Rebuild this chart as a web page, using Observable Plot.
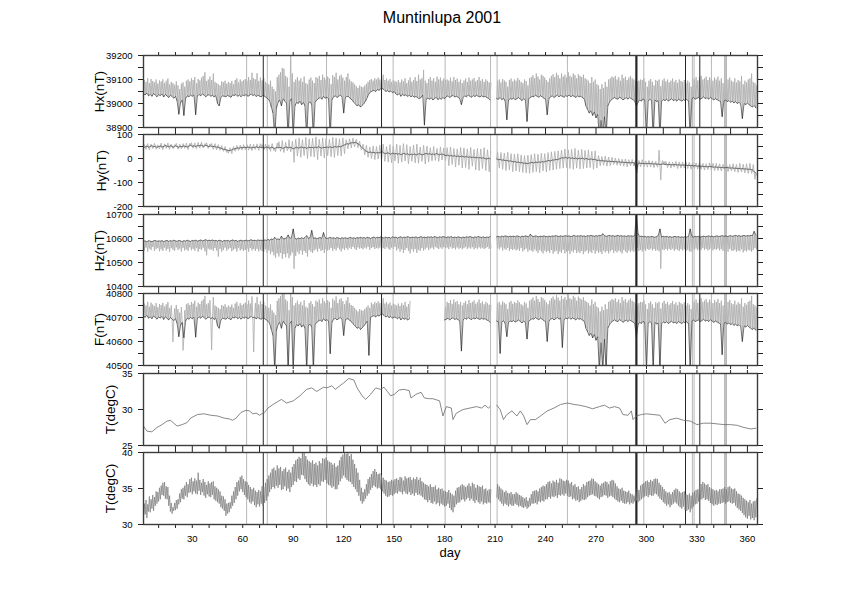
<!DOCTYPE html>
<html><head><meta charset="utf-8">
<script src="https://cdn.jsdelivr.net/npm/d3@7"></script>
<script src="https://cdn.jsdelivr.net/npm/@observablehq/plot@0.6"></script>
<style>
body{margin:0;background:#fff;font-family:"Liberation Sans",Arial,Helvetica,sans-serif}
#wrap{position:relative;width:842px;height:595px;overflow:hidden;background:#fff}
.panel{position:absolute;left:0}
#title{position:absolute;top:9px;left:292px;width:300px;text-align:center;font-size:16px;line-height:18px;color:#000}
#day{position:absolute;top:545px;left:400px;width:100px;text-align:center;font-size:13px;line-height:15px;color:#000}
</style></head><body>
<div id="wrap"><div id="title">Muntinlupa 2001</div><div id="day">day</div></div>
<script>
// ---- tick values ----
const xMinorTicks = [10,20,30,40,50,60,70,80,90,100,110,120,130,140,150,160,170,180,190,200,210,220,230,240,250,260,270,280,290,300,310,320,330,340,350,360];
const xLabelTicks = [30,60,90,120,150,180,210,240,270,300,330,360];
const hxTicks = [38900,39000,39100,39200], hxMinor = [38950,39050,39150];
const hyTicks = [-200,-100,0,100], hyMinor = [-150,-50,50];
const hzTicks = [10400,10500,10600,10700], hzMinor = [10450,10550,10650];
const fTicks = [40500,40600,40700,40800], fMinor = [40550,40650,40750];
const tTicks = [25,30,35];
const t2Ticks = [30,35,40];

// ---- spike days (values beyond range) ----
const glitchGray = [62.3,74.6,109.8,149.4,180.3,207.3,211.2,253,298.4,327.3,328.3,338.6,346.6,347.4];
const glitchDark = [72.2,142.5,294,323.2,331.7];

// ---- Hx (nT): daily night level and daily peak, days 1..365 ----
const hxBase = [
39040,39036,39044,39032,39038,39030,39042,39035,39028,39037,
39033,39040,39027,39038,39031,39025,39035,39029,39022,39030,
39010,38955,39002,39015,38950,39020,39032,39028,39035,39030,
39036,38953,39030,39038,39032,39040,39035,39028,39034,39037,
39030,39035,39027,39033,39000,38990,39025,39032,39030,39028,
39034,39030,39026,39036,39033,39038,39030,39035,39028,39036,
39032,39038,39030,39034,39040,39033,39037,39029,39035,39030,
39028,39034,39030,39025,39020,39010,38985,38960,38860,38980,
39005,39015,38990,39020,39010,39000,38860,39010,39020,38860,
38990,39005,39000,39010,38995,39005,38990,38860,39000,39008,
38995,38860,39005,39015,39020,39025,39018,39030,39022,39026,
39020,38860,39015,39028,39032,39025,39030,39035,39028,38960,
39025,39030,39028,39020,39015,39005,38998,38990,38995,38985,
38992,39000,39010,39025,39040,39048,39052,39055,39050,39058,
39055,39060,39062,39058,39050,39054,39048,39052,39045,39050,
39040,39035,39042,39030,39038,39033,39036,39030,39034,39028,
39032,39026,39030,39024,39020,39025,39035,38910,39018,39022,
39018,39024,39015,39020,39026,39016,39022,39018,39025,39020,
39028,39032,39025,39030,39034,39027,39030,39026,39020,38995,
39025,39032,39028,39035,39030,39026,39033,39029,39034,39030,
39027,39032,39028,39030,39025,39022,39015,null,null,null,
39020,39018,39025,39016,39022,39010,38932,39015,39020,39018,
39022,39016,39020,39025,39018,39012,39020,39015,38925,39020,
39025,39030,39028,39035,39030,39026,39032,39028,39022,39018,
38953,39020,39028,39032,39025,39030,39035,39028,39033,39030,
39026,39032,39030,39035,39028,39033,39030,39025,39032,39028,
39030,39024,39020,38990,38975,38960,38970,38950,38965,38940,
38955,38860,38930,38860,38945,38860,38990,39005,39015,39020,
39025,39020,39018,39026,39022,39015,39020,39024,39018,39025,
39020,39016,39010,38990,39005,39015,39010,39020,39012,38860,
39010,39018,39012,38860,39015,39008,39012,38860,39010,39016,
39012,39018,39010,39015,39020,39012,39016,39010,39018,39014,
39010,39016,39012,39018,39008,38860,39020,39025,39018,39022,
39025,39018,39022,39028,39020,39024,39018,39026,39020,39015,
39020,39016,39012,39008,38945,39010,39015,39008,39012,39005,
39010,39002,39008,39000,39005,38998,38937,39000,38995,39002,
38995,38990,38985,38992,38982];
const hxPeak = [
39098,39090,39105,39085,39102,39094,39088,39100,39083,39096,
39092,39101,39086,39095,39104,39080,39090,39085,39078,39092,
39075,39060,39083,39088,39070,39095,39100,39092,39105,39098,
39110,39085,39102,39096,39108,39115,39130,39094,39100,39112,
39098,39125,39090,39085,39080,39075,39092,39088,39095,39083,
39090,39085,39094,39080,39098,39105,39088,39100,39092,39097,
39102,39095,39110,39098,39128,39105,39100,39126,39094,39108,
39096,39105,39090,39085,39080,39095,39070,39060,39050,39110,
39120,39130,39148,39145,39115,39108,39070,39200,39125,39090,
39100,39110,39095,39105,39090,39112,39085,39080,39100,39108,
39095,39085,39110,39105,39115,39098,39120,39108,39100,39112,
39105,39080,39118,39110,39128,39100,39115,39120,39108,39095,
39110,39125,39100,39092,39088,39080,39072,39065,39075,39070,
39068,39075,39082,39090,39098,39102,39095,39105,39100,39108,
39100,39110,39120,39098,39104,39095,39102,39090,39098,39094,
39090,39098,39088,39100,39092,39105,39085,39096,39108,39090,
39098,39110,39094,39120,39100,39105,39140,39095,39085,39102,
39110,39095,39105,39090,39112,39100,39108,39095,39104,39098,
39100,39095,39108,39092,39110,39098,39104,39090,39100,39085,
39096,39104,39090,39108,39095,39100,39106,39092,39098,39110,
39095,39102,39090,39100,39094,39088,39085,null,null,null,
39095,39100,39088,39102,39096,39090,39070,39098,39104,39092,
39100,39095,39106,39098,39090,39085,39100,39094,39075,39105,
39110,39118,39105,39125,39112,39100,39120,39115,39108,39098,
39090,39105,39115,39122,39110,39128,39118,39105,39125,39112,
39120,39108,39130,39115,39110,39125,39118,39105,39122,39115,
39110,39120,39105,39100,39095,39085,39110,39090,39100,39080,
39075,39060,39080,39065,39090,39070,39100,39105,39112,39108,
39115,39100,39110,39095,39120,39105,39112,39098,39108,39115,
39105,39100,39092,39090,39095,39100,39098,39105,39090,39070,
39095,39102,39090,39075,39098,39094,39100,39072,39096,39104,
39092,39100,39088,39095,39104,39090,39098,39086,39100,39094,
39090,39098,39085,39095,39088,39070,39105,39100,39110,39096,
39108,39115,39100,39105,39112,39098,39110,39104,39095,39108,
39100,39112,39095,39105,39085,39098,39092,39100,39108,39095,
39090,39105,39088,39098,39092,39115,39080,39095,39088,39100,
39105,39125,39090,39085,39075];

// ---- Hy (nT) ----
const hyBase = [
45,48,52,47,50,53,49,51,46,50,
52,48,50,54,51,49,53,50,47,52,
50,47,51,49,53,50,48,52,55,51,
53,50,54,52,56,53,51,55,52,50,
52,49,51,47,48,45,43,40,38,36,
35,33,34,38,40,42,44,43,46,45,
47,45,48,46,44,47,45,49,46,48,
45,47,44,48,46,43,47,45,42,46,
44,47,45,42,46,48,44,47,45,40,
44,47,43,46,48,44,46,42,47,45,
47,44,48,45,49,46,43,47,45,48,
46,49,45,48,50,47,51,48,52,55,
58,62,60,64,66,65,68,63,60,52,
45,38,32,28,25,27,24,26,22,25,
23,26,28,22,20,24,21,18,22,19,
21,18,20,16,19,22,17,20,15,18,
16,19,14,18,20,17,15,19,21,18,
20,17,19,16,21,18,15,19,17,14,
12,15,10,13,9,12,8,11,7,10,
8,6,9,5,7,4,6,3,5,2,
4,1,3,0,-2,1,-1,null,null,null,
-2,-5,-3,-7,-6,-9,-8,-11,-10,-12,
-14,-13,-16,-15,-18,-17,-20,-19,-22,-20,
-18,-16,-19,-15,-17,-14,-16,-13,-15,-12,
-10,-8,-11,-6,-7,-4,-5,-2,1,3,
2,5,1,4,0,3,-1,2,-2,1,
-1,2,-3,0,-2,-4,-1,-5,-3,-6,
-8,-7,-10,-9,-11,-10,-12,-11,-13,-12,
-14,-13,-15,-14,-16,-15,-17,-16,-18,-17,
-18,-17,-19,-51,-20,-19,-21,-20,-22,-21,
-20,-22,-21,-23,-22,-24,-23,-25,-24,-23,
-25,-24,-26,-25,-27,-26,-25,-27,-26,-28,
-27,-28,-26,-29,-28,-30,-29,-31,-30,-32,
-31,-33,-32,-34,-33,-35,-34,-33,-35,-36,
-35,-37,-36,-38,-37,-39,-38,-37,-39,-40,
-39,-41,-40,-42,-41,-43,-42,-44,-43,-45,
-44,-46,-48,-55,-60];
const hyPeak = [
58,38,62,36,60,41,63,39,57,40,
64,37,61,42,65,38,60,41,58,63,
39,60,40,62,42,64,37,63,66,43,
65,41,67,43,68,44,62,66,42,61,
63,38,62,36,58,34,54,30,50,25,
22,45,20,50,30,55,33,56,35,58,
36,58,35,60,33,59,38,61,34,62,
58,36,60,34,57,30,62,33,28,64,
70,30,75,25,68,32,78,28,72,-16,
80,10,85,5,78,12,88,0,82,8,
84,6,90,-5,80,10,86,2,83,12,
80,8,88,4,85,12,82,10,86,20,
78,40,82,44,85,48,80,45,72,35,
60,15,55,5,48,0,52,-5,50,-2,
55,-8,60,-12,50,-15,58,-18,52,-10,
60,-20,55,-15,62,-10,58,-22,50,-12,
56,-18,60,-20,48,-12,55,-23,52,-15,
45,-10,50,-8,42,-12,48,-6,44,-10,
45,-30,48,-25,42,-35,40,-28,46,-40,
44,-38,40,-45,46,-32,38,-48,42,-50,
40,-42,45,-50,36,-55,30,null,null,null,
28,-40,25,-45,22,-50,26,-48,20,-55,
18,-52,20,-55,15,-58,12,-60,14,-62,
16,-58,20,-55,18,-60,22,-52,20,-56,
25,-50,28,-48,30,-45,32,-42,35,-40,
40,-38,36,-42,38,-45,42,-40,35,-44,
38,-42,34,-40,36,-38,30,-45,32,-40,
12,-30,8,-28,10,-32,6,-30,5,-25,
2,-28,0,-30,-3,-32,-2,-35,-5,-30,
-4,-32,-6,-60,-8,-35,-5,-34,-10,-36,
-8,-35,-10,-38,-12,-36,35,-90,-9,-12,
-12,-38,-14,-40,-15,-36,-12,-42,-14,-40,
-15,-40,-14,-42,-16,-45,-15,-43,-18,-44,
-18,-45,-20,-48,-22,-46,-18,-47,-20,-50,
-20,-50,-22,-52,-24,-48,-20,-55,-25,-52,
-22,-55,-25,-58,-20,-56,-24,-60,-22,-62,
-20,-62,-25,-87,-70];

// ---- Hz (nT) ----
const hzBase = [
10588,10590,10586,10591,10589,10587,10590,10592,10588,10590,
10589,10591,10587,10590,10592,10588,10591,10589,10593,10590,
10588,10592,10590,10587,10591,10589,10593,10590,10588,10592,
10590,10593,10589,10591,10594,10590,10592,10595,10591,10593,
10591,10594,10590,10592,10589,10593,10591,10588,10592,10590,
10592,10589,10591,10594,10590,10592,10588,10591,10593,10590,
10591,10593,10590,10592,10595,10591,10593,10590,10594,10592,
10593,10591,10594,10592,10596,10593,10598,10595,10605,10597,
10598,10596,10610,10598,10600,10602,10615,10600,10605,10640,
10600,10598,10602,10599,10603,10600,10604,10612,10601,10603,
10634,10600,10603,10599,10602,10604,10600,10625,10603,10600,
10602,10605,10601,10603,10600,10604,10602,10599,10603,10601,
10603,10600,10602,10605,10601,10603,10600,10604,10602,10605,
10602,10604,10601,10605,10603,10600,10604,10606,10602,10605,
10603,10607,10604,10602,10606,10603,10605,10601,10607,10604,
10606,10602,10605,10607,10603,10606,10604,10608,10605,10603,
10606,10604,10607,10603,10605,10608,10604,10606,10603,10607,
10605,10607,10604,10608,10606,10603,10607,10605,10608,10606,
10604,10607,10605,10608,10603,10606,10604,10607,10605,10603,
10606,10604,10607,10605,10608,10606,10603,10607,10605,10608,
10606,10604,10607,10603,10606,10605,10608,null,null,null,
10607,10609,10606,10610,10608,10611,10609,10607,10610,10608,
10610,10607,10611,10609,10606,10610,10608,10611,10609,10607,
10618,10610,10608,10611,10609,10607,10610,10608,10611,10609,
10607,10610,10608,10611,10609,10612,10610,10608,10611,10609,
10610,10612,10609,10611,10608,10610,10613,10609,10611,10610,
10612,10609,10611,10608,10612,10610,10613,10611,10609,10612,
10610,10613,10611,10620,10612,10609,10611,10613,10610,10612,
10609,10611,10613,10610,10612,10609,10611,10608,10612,10610,
10611,10609,10612,10700,10620,10608,10610,10607,10609,10606,
10608,10606,10609,10607,10605,10608,10612,10640,10606,10609,
10607,10609,10606,10608,10605,10607,10609,10606,10608,10605,
10607,10605,10608,10606,10609,10640,10608,10606,10609,10607,
10609,10606,10608,10610,10607,10609,10611,10608,10610,10607,
10609,10611,10608,10610,10612,10609,10611,10608,10610,10612,
10609,10611,10613,10610,10612,10609,10611,10613,10610,10612,
10611,10613,10612,10630,10615];
const hzDip = [
10550,10562,10545,10558,10552,10565,10548,10556,10560,10547,
10555,10548,10562,10550,10557,10545,10560,10553,10549,10563,
10552,10558,10546,10561,10550,10555,10548,10563,10551,10557,
10549,10560,10545,10556,10552,10562,10547,10530,10558,10553,
10555,10548,10560,10550,10525,10557,10545,10552,10562,10549,
10556,10560,10547,10553,10558,10546,10561,10550,10555,10548,
10552,10558,10545,10560,10550,10556,10548,10557,10546,10553,
10548,10545,10555,10540,10550,10535,10545,10530,10520,10538,
10525,10540,10516,10535,10522,10538,10518,10530,10542,10474,
10528,10545,10535,10550,10532,10548,10540,10525,10552,10545,
10540,10550,10555,10545,10558,10548,10552,10540,10556,10550,
10553,10560,10548,10557,10550,10562,10555,10546,10558,10552,
10560,10553,10562,10556,10565,10558,10552,10563,10557,10560,
10555,10562,10558,10565,10553,10560,10564,10556,10561,10558,
10562,10545,10560,10556,10564,10558,10553,10562,10557,10565,
10550,10558,10545,10555,10540,10552,10560,10548,10538,10555,
10545,10556,10540,10553,10548,10560,10550,10555,10562,10552,
10558,10562,10555,10565,10560,10556,10563,10557,10564,10560,
10562,10556,10565,10558,10560,10554,10563,10557,10561,10555,
10560,10565,10556,10562,10558,10564,10555,10561,10557,10563,
10558,10562,10556,10560,10565,10557,10562,null,null,null,
10560,10555,10563,10550,10558,10553,10561,10548,10556,10552,
10557,10550,10555,10548,10560,10546,10553,10558,10545,10552,
10550,10545,10555,10548,10540,10552,10546,10538,10550,10543,
10548,10540,10552,10537,10545,10550,10535,10546,10540,10553,
10538,10545,10550,10536,10548,10542,10552,10539,10546,10540,
10548,10535,10545,10550,10538,10546,10540,10552,10537,10548,
10540,10545,10536,10550,10542,10548,10538,10546,10552,10540,
10548,10542,10550,10545,10538,10552,10546,10540,10550,10544,
10550,10545,10552,10560,10548,10553,10546,10555,10549,10557,
10552,10558,10550,10556,10548,10553,10547,10474,10555,10551,
10556,10550,10557,10552,10558,10549,10555,10553,10548,10556,
10550,10555,10548,10553,10547,10545,10556,10552,10558,10551,
10556,10553,10560,10552,10557,10550,10555,10558,10551,10556,
10553,10558,10550,10556,10548,10555,10552,10545,10557,10550,
10548,10553,10545,10550,10547,10555,10542,10550,10546,10553,
10550,10545,10552,10560,10555];

// ---- F (nT) ----
const fBase = [
40705,40701,40709,40697,40703,40695,40707,40700,40693,40702,
40698,40705,40692,40703,40696,40690,40700,40694,40687,40695,
40675,40620,40667,40680,40615,40685,40697,40693,40700,40695,
40701,40618,40695,40703,40697,40705,40700,40693,40699,40702,
40695,40700,40692,40698,40665,40655,40690,40697,40695,40693,
40699,40695,40691,40701,40698,40703,40695,40700,40693,40701,
40697,40703,40695,40699,40705,40698,40702,40694,40700,40695,
40693,40699,40695,40690,40685,40675,40650,40625,40480,40645,
40670,40680,40655,40685,40675,40665,40480,40675,40685,40480,
40655,40670,40665,40675,40660,40670,40655,40480,40665,40673,
40660,40480,40670,40680,40685,40690,40683,40695,40687,40691,
40685,40549,40680,40693,40697,40690,40695,40700,40693,40625,
40690,40695,40693,40685,40680,40670,40663,40655,40660,40650,
40657,40665,40675,40685,40542,40700,40705,40708,40702,40710,
40706,40712,40714,40709,40702,40706,40700,40704,40697,40702,
40700,40695,40702,40690,40698,40693,40696,40690,40694,null,
null,null,null,null,null,null,null,null,null,null,
null,null,null,null,null,null,null,null,null,40690,
40693,40697,40690,40695,40699,40692,40695,40691,40685,40560,
40690,40697,40693,40700,40695,40691,40698,40694,40699,40695,
40692,40697,40693,40695,40690,40687,40680,null,null,null,
40685,40683,40550,40681,40687,40675,40620,40680,40685,40683,
40687,40681,40685,40690,40683,40677,40685,40680,40610,40685,
40690,40695,40693,40700,40695,40691,40697,40693,40687,40683,
40600,40685,40693,40697,40690,40695,40700,40693,40698,40575,
40691,40697,40695,40700,40693,40698,40695,40690,40697,40693,
40695,40689,40685,40655,40640,40625,40635,40615,40630,40605,
40620,40480,40595,40480,40610,40480,40655,40670,40680,40685,
40690,40685,40683,40691,40687,40680,40685,40689,40683,40690,
40685,40681,40675,40620,40670,40680,40675,40685,40677,40480,
40675,40683,40677,40480,40680,40673,40677,40480,40675,40681,
40677,40683,40675,40680,40685,40677,40681,40675,40683,40679,
40675,40681,40677,40683,40673,40480,40685,40690,40683,40687,
40690,40683,40687,40693,40685,40689,40683,40691,40685,40680,
40685,40681,40677,40673,40545,40675,40680,40673,40677,40670,
40675,40667,40673,40665,40670,40663,40600,40665,40660,40667,
40660,40655,40650,40657,40647];
const fPeak = [
40758,40750,40765,40745,40762,40754,40748,40760,40743,40756,
40752,40761,40746,40755,40764,40740,40750,40598,40738,40752,
40735,40720,40743,40563,40730,40755,40760,40752,40765,40758,
40770,40745,40762,40756,40768,40775,40790,40754,40760,40772,
40565,40785,40750,40745,40740,40735,40752,40748,40755,40743,
40750,40745,40754,40740,40758,40765,40748,40760,40752,40757,
40762,40755,40770,40758,40788,40556,40760,40786,40754,40768,
40756,40765,40750,40745,40740,40755,40730,40720,40710,40770,
40780,40790,40808,40805,40775,40768,40730,40800,40785,40750,
40760,40770,40755,40765,40750,40772,40745,40740,40760,40768,
40755,40745,40770,40765,40775,40758,40780,40768,40760,40772,
40765,40740,40778,40770,40788,40760,40775,40780,40768,40755,
40770,40785,40760,40752,40748,40740,40732,40725,40735,40730,
40728,40735,40742,40750,40740,40762,40755,40765,40760,40768,
40760,40770,40780,40758,40764,40755,40762,40750,40758,40754,
40750,40758,40748,40760,40752,40765,40745,40756,40768,null,
null,null,null,null,null,null,null,null,null,null,
null,null,null,null,null,null,null,null,null,40745,
40765,40760,40773,40757,40775,40763,40769,40755,40765,40750,
40761,40769,40755,40773,40760,40765,40771,40757,40763,40775,
40760,40767,40755,40765,40759,40753,40750,null,null,null,
40760,40765,40753,40767,40761,40755,40735,40763,40769,40757,
40765,40760,40771,40763,40755,40750,40765,40759,40740,40770,
40775,40783,40770,40790,40777,40765,40785,40780,40773,40763,
40755,40770,40780,40787,40775,40793,40783,40770,40790,40777,
40785,40773,40795,40780,40775,40790,40783,40770,40787,40780,
40775,40785,40770,40765,40760,40750,40775,40755,40765,40745,
40740,40725,40745,40730,40755,40735,40765,40770,40777,40773,
40780,40765,40775,40760,40785,40770,40777,40763,40773,40780,
40770,40765,40757,40750,40760,40765,40763,40770,40755,40735,
40760,40767,40755,40740,40763,40759,40765,40737,40761,40769,
40757,40765,40753,40760,40769,40755,40763,40751,40765,40759,
40755,40763,40750,40760,40753,40735,40770,40765,40775,40761,
40773,40780,40765,40770,40777,40763,40775,40769,40760,40773,
40765,40777,40760,40770,40750,40763,40757,40765,40773,40760,
40755,40770,40753,40763,40757,40780,40745,40760,40753,40765,
40770,40790,40755,40750,40740];

// ---- T (degC), sensor temperature: day / value ----
const tDays = [1,3,6,9,12,15,17,19,21,24,27,29,33,37,41,45,49,52,54,56,59,62,64,66,68,70,72,73,75,78,83,86,90,94,98,101,104,108,110,113,115,120,123,126,128,131,133,136,139,142,144,146,148,150,153,156,159,160,163,166,168,171,173,177,179,181,184,185,187,191,195,199,202,204,206,207,209,211,213,215,217,220,223,225,227,229,231,234,237,241,245,249,253,257,260,264,268,272,275,278,281,284,286,289,291,292,294,297,300,304,308,311,314,318,322,326,330,334,338,342,346,350,354,358,362,365];
const tVals = [27.7,27.0,26.9,27.5,27.9,28.4,28.5,28.1,27.7,27.9,28.2,28.8,29.3,29.4,29.2,29.1,28.8,28.7,28.5,28.8,29.6,29.9,29.8,29.4,29.5,29.2,29.5,29.6,30.2,30.7,31.4,30.9,31.2,31.9,32.8,33.0,32.5,33.1,33.0,33.3,32.8,33.7,34.3,34.1,33.0,31.9,31.4,32.1,33.0,32.8,33.1,32.5,31.9,32.1,32.7,32.8,32.6,31.6,32.1,32.4,31.6,31.5,31.5,31.2,29.1,30.4,30.2,28.6,29.5,30.0,30.2,30.4,30.2,30.6,30.2,30.4,null,30.6,30.0,28.6,29.3,29.8,29.1,29.8,29.1,27.9,28.6,28.6,29.1,29.8,30.2,30.7,30.9,30.7,30.6,30.4,30.1,30.4,30.6,30.2,30.4,30.2,29.3,29.2,29.8,28.6,29.1,29.3,29.4,29.3,29.2,28.1,28.6,28.8,28.5,28.4,27.9,28.1,28.1,28.0,27.9,27.9,27.8,27.5,27.3,27.4];

// ---- T (degC), outside temperature: daily min / max ----
const t2Lo = [
31.0,31.4,30.9,31.8,31.7,32.2,31.9,32.6,32.9,33.2,
33.5,34.1,34.0,33.6,33.5,32.6,31.8,31.5,31.9,32.0,
32.2,32.8,33.1,33.6,33.5,34.0,33.8,34.4,34.5,34.2,
34.6,34.3,34.2,34.7,34.1,34.5,34.0,33.7,34.2,33.9,
33.8,34.1,33.5,33.3,33.1,32.9,32.4,32.2,31.9,31.2,
31.5,31.7,32.2,32.6,33.0,33.5,34.0,34.6,34.9,34.5,
34.1,33.8,33.5,33.1,32.9,33.2,32.7,32.4,32.8,32.5,
32.9,32.6,33.0,33.3,33.9,34.5,34.9,35.2,35.0,35.4,
35.1,35.5,34.8,34.9,35.3,34.7,35.0,34.5,35.2,35.5,
36.0,35.9,36.4,36.2,36.9,36.8,36.3,35.9,35.6,35.4,
35.7,35.3,35.5,35.2,35.6,35.4,36.0,35.9,36.2,35.7,
35.5,35.4,35.1,35.3,34.9,34.9,35.5,36.0,36.4,36.8,
36.5,36.2,36.0,35.9,35.6,35.2,34.9,34.5,34.0,33.3,
32.9,33.2,33.6,34.0,34.3,34.8,35.1,35.4,35.2,35.0,
35.1,34.9,34.6,34.3,34.0,33.8,33.9,34.1,34.0,34.2,
34.4,34.3,34.6,34.5,34.2,34.6,34.3,34.2,34.5,34.1,
34.3,34.0,34.4,34.1,34.2,34.0,33.8,33.5,33.4,33.1,
33.4,33.0,32.9,33.2,32.8,33.0,32.6,32.9,32.7,32.5,
32.6,32.9,32.3,32.0,31.7,32.4,32.8,33.0,33.1,33.4,
33.5,33.2,33.5,33.7,33.3,33.6,33.3,33.0,33.4,33.1,
32.9,33.2,32.8,33.0,32.9,33.1,33.0,null,null,null,
33.8,33.5,33.2,32.9,32.6,32.9,32.7,32.5,32.8,32.6,
32.6,32.9,32.7,32.5,32.6,32.4,32.3,32.5,32.2,32.4,
32.6,32.9,32.9,33.0,32.8,33.2,33.1,33.3,33.2,33.5,
33.5,33.8,33.6,33.9,33.8,34.0,33.7,34.1,34.0,34.2,
34.0,34.3,34.0,33.8,33.9,33.5,33.6,33.3,33.4,33.1,
33.3,33.5,33.4,33.5,33.8,34.0,34.1,34.2,34.0,33.9,
33.7,33.5,33.8,33.9,34.1,34.0,33.7,33.9,34.0,33.8,
33.6,33.4,33.2,33.1,33.3,33.0,32.9,32.9,33.1,32.8,
33.0,32.9,33.2,33.3,33.1,33.3,33.5,33.7,33.9,34.0,
33.8,34.1,34.0,34.0,34.3,34.2,33.9,33.6,33.4,33.1,
32.9,32.6,32.8,32.4,32.7,32.9,33.1,32.9,32.6,32.4,
32.2,32.5,32.0,31.9,32.1,31.7,32.2,32.5,32.8,32.9,
33.2,33.5,33.5,33.7,33.4,33.5,33.3,33.0,32.8,32.6,
32.8,32.7,32.9,32.9,33.0,33.1,32.9,33.1,33.2,33.0,
32.9,33.0,32.6,32.3,32.1,31.9,31.6,31.3,31.0,30.8,
31.2,30.7,30.9,30.6,31.0];
const t2Hi = [
32.9,33.4,32.8,33.9,33.5,34.1,33.8,34.6,34.5,35.1,
35.4,35.8,35.9,35.3,35.2,34.0,33.0,32.4,33.0,33.4,
33.5,34.3,34.9,35.1,35.4,35.9,35.6,36.3,36.5,36.0,
36.4,36.1,37.2,36.2,35.8,36.3,35.9,35.5,36.0,35.7,
35.9,36.0,35.3,35.1,34.9,34.6,34.0,33.9,33.5,32.9,
33.0,33.1,34.0,34.6,35.2,35.9,36.1,36.6,36.8,36.3,
36.0,35.9,35.5,35.2,34.9,35.1,34.7,34.5,34.8,34.6,
35.3,35.2,35.8,36.3,36.8,37.2,37.7,37.9,37.5,38.2,
37.8,38.0,37.4,37.7,37.9,37.3,37.6,37.2,38.0,38.4,
38.9,39.1,39.4,39.2,40.0,40.0,39.5,39.0,38.8,38.6,
38.9,38.4,38.6,38.2,38.8,38.5,39.2,39.1,39.3,38.9,
38.7,38.6,38.3,38.5,38.0,38.2,38.9,39.4,39.7,40.0,
39.8,39.9,39.5,39.8,39.0,38.4,37.8,37.2,36.2,35.1,
34.5,34.9,35.6,36.3,36.6,37.0,37.4,37.7,37.3,37.0,
37.1,36.8,36.5,36.2,36.1,35.9,36.0,36.2,36.1,36.3,
36.4,36.2,36.6,36.5,36.1,36.7,36.4,36.5,36.6,36.2,
36.5,36.3,36.6,36.2,36.5,36.0,35.8,35.6,35.5,35.3,
35.6,35.2,35.2,35.4,34.9,35.1,34.9,35.0,34.7,34.6,
34.5,34.8,34.4,34.2,34.0,34.7,35.1,35.2,35.4,35.6,
35.4,35.2,35.4,35.7,35.3,35.8,35.6,35.1,35.5,35.3,
35.2,35.4,34.9,35.0,34.7,34.9,34.8,null,null,null,
35.6,35.3,35.0,34.8,34.5,34.7,34.4,34.3,34.5,34.2,
34.2,34.5,34.3,34.1,34.0,33.8,33.6,33.8,33.3,33.7,
34.2,34.6,34.7,34.8,34.6,35.0,35.2,35.4,35.3,35.6,
35.9,36.0,35.7,36.1,35.9,36.2,35.8,36.4,36.3,36.1,
36.0,36.2,36.1,35.7,35.9,35.4,35.6,35.2,35.3,34.9,
35.2,35.6,35.4,35.9,36.0,36.1,36.4,36.3,36.0,35.8,
35.6,35.4,35.7,35.8,36.0,35.9,35.6,36.0,36.2,36.1,
35.7,35.3,35.0,34.9,35.1,34.7,34.6,34.5,34.7,34.3,
34.2,34.0,34.6,35.0,34.8,35.4,35.6,35.8,36.0,36.1,
35.9,36.2,36.0,36.3,36.4,36.3,35.8,35.5,35.2,34.9,
34.6,34.4,34.5,34.2,34.5,34.8,35.0,34.9,34.6,34.4,
34.5,34.6,34.2,34.1,34.3,34.0,34.4,34.6,34.8,34.9,
35.3,35.6,35.9,35.7,35.5,35.6,35.2,35.0,34.9,34.7,
34.8,34.6,34.9,34.9,35.0,35.2,34.9,35.2,35.3,35.0,
34.9,35.0,34.6,34.3,34.2,34.0,33.7,33.5,33.3,33.1,
33.4,32.9,33.2,33.3,33.6];

// ---- build tables ----
function zigRows(lo, hi) {
  const rows = [];
  lo.forEach((v, i) => {
    const d = i + 1;
    if (v == null || hi[i] == null) { rows.push({x: d, y: NaN}); return; }
    rows.push({x: d, y: v});
    rows.push({x: d + 0.5, y: hi[i]});
  });
  return rows;
}
function baseRows(arr) { return arr.map((v, i) => ({x: i + 1, y: v == null ? NaN : v})); }
const tRows = tDays.map((d, i) => ({x: d, y: tVals[i] == null ? NaN : tVals[i]}));

const panels = [
  {label: "Hx(nT)", domain: [38900, 39200], major: hxTicks, minor: hxMinor, kind: "zig", a: hxBase, b: hxPeak, dx: -44},
  {label: "Hy(nT)", domain: [-200, 100], major: hyTicks, minor: hyMinor, kind: "zig", a: hyBase, b: hyPeak, dx: -42},
  {label: "Hz(nT)", domain: [10400, 10700], major: hzTicks, minor: hzMinor, kind: "zig", a: hzBase, b: hzDip, dx: -44},
  {label: "F(nT)", domain: [40500, 40800], major: fTicks, minor: fMinor, kind: "zig", a: fBase, b: fPeak, dx: -44},
  {label: "T(degC)", domain: [25, 35], major: tTicks, minor: [], kind: "line", dx: -33},
  {label: "T(degC)", domain: [30, 40], major: t2Ticks, minor: [], kind: "band", a: t2Lo, b: t2Hi, dx: -33}
];
const tops = [55, 134.4, 213.8, 293.2, 372.6, 452];
const wrap = document.getElementById("wrap");

panels.forEach((p, k) => {
  const last = k === panels.length - 1;
  const marks = [];
  if (p.kind === "zig") {
    marks.push(Plot.line(zigRows(p.a, p.b), {x: "x", y: "y", stroke: "#ababab", strokeWidth: 0.8, clip: true}));
  }
  marks.push(Plot.ruleX(glitchGray, {x: d => d, stroke: "#b8b8b8", strokeWidth: d => (d > 346 && d < 348) ? 1.6 : 1}));
  marks.push(Plot.ruleX(glitchDark, {x: d => d, stroke: "#262626", strokeWidth: d => d === 294 ? 2.2 : 1}));
  if (p.kind === "zig") {
    marks.push(Plot.line(baseRows(p.a), {x: "x", y: "y", stroke: "#1c1c1c", strokeWidth: 0.6, clip: true}));
  } else if (p.kind === "line") {
    marks.push(Plot.line(tRows, {x: "x", y: "y", stroke: "#6a6a6a", strokeWidth: 0.8, clip: true}));
  } else {
    marks.push(Plot.line(zigRows(p.a, p.b), {x: "x", y: "y", stroke: "#7a7a7a", strokeWidth: 0.7, clip: true}));
  }
  marks.push(
    Plot.axisY({anchor: "left", ticks: p.major, tickSize: 5, tickPadding: 6, tickFormat: d => String(d), label: null, stroke: "#222"}),
    Plot.axisY({anchor: "right", ticks: p.major.concat(p.minor), tickSize: 5, tickFormat: () => "", label: null, stroke: "#222"}),
    Plot.axisX({anchor: "top", ticks: xMinorTicks, tickSize: 4, tickFormat: () => "", label: null, stroke: "#222"}),
    Plot.axisX({anchor: "bottom", ticks: xMinorTicks, tickSize: 4, tickPadding: 7,
      tickFormat: last ? (d => xLabelTicks.includes(d) ? String(d) : "") : (() => ""), label: null, stroke: "#222"}),
    Plot.frame({stroke: "#3c3c3c", strokeWidth: 1.4}),
    Plot.text([p.label], {frameAnchor: "left", dx: p.dx, rotate: -90, textAnchor: "middle", lineAnchor: "middle", fontSize: 13.5, fill: "#000"})
  );
  if (p.minor.length) marks.push(Plot.axisY({anchor: "left", ticks: p.minor, tickSize: 5, tickFormat: () => "", label: null, stroke: "#222"}));
  const chart = Plot.plot({
    width: 842,
    height: last ? 128 : 84,
    marginLeft: 143, marginRight: 85, marginTop: 6, marginBottom: last ? 50 : 6,
    x: {domain: [1, 366]},
    y: {domain: p.domain},
    style: {fontFamily: "'Liberation Sans', Arial, Helvetica, sans-serif", fontSize: "9.5px", color: "#000", background: "none", overflow: "visible"},
    marks
  });
  const div = document.createElement("div");
  div.className = "panel";
  div.style.top = (tops[k] - 6) + "px";
  div.appendChild(chart);
  wrap.appendChild(div);
});
</script>
</body></html>
